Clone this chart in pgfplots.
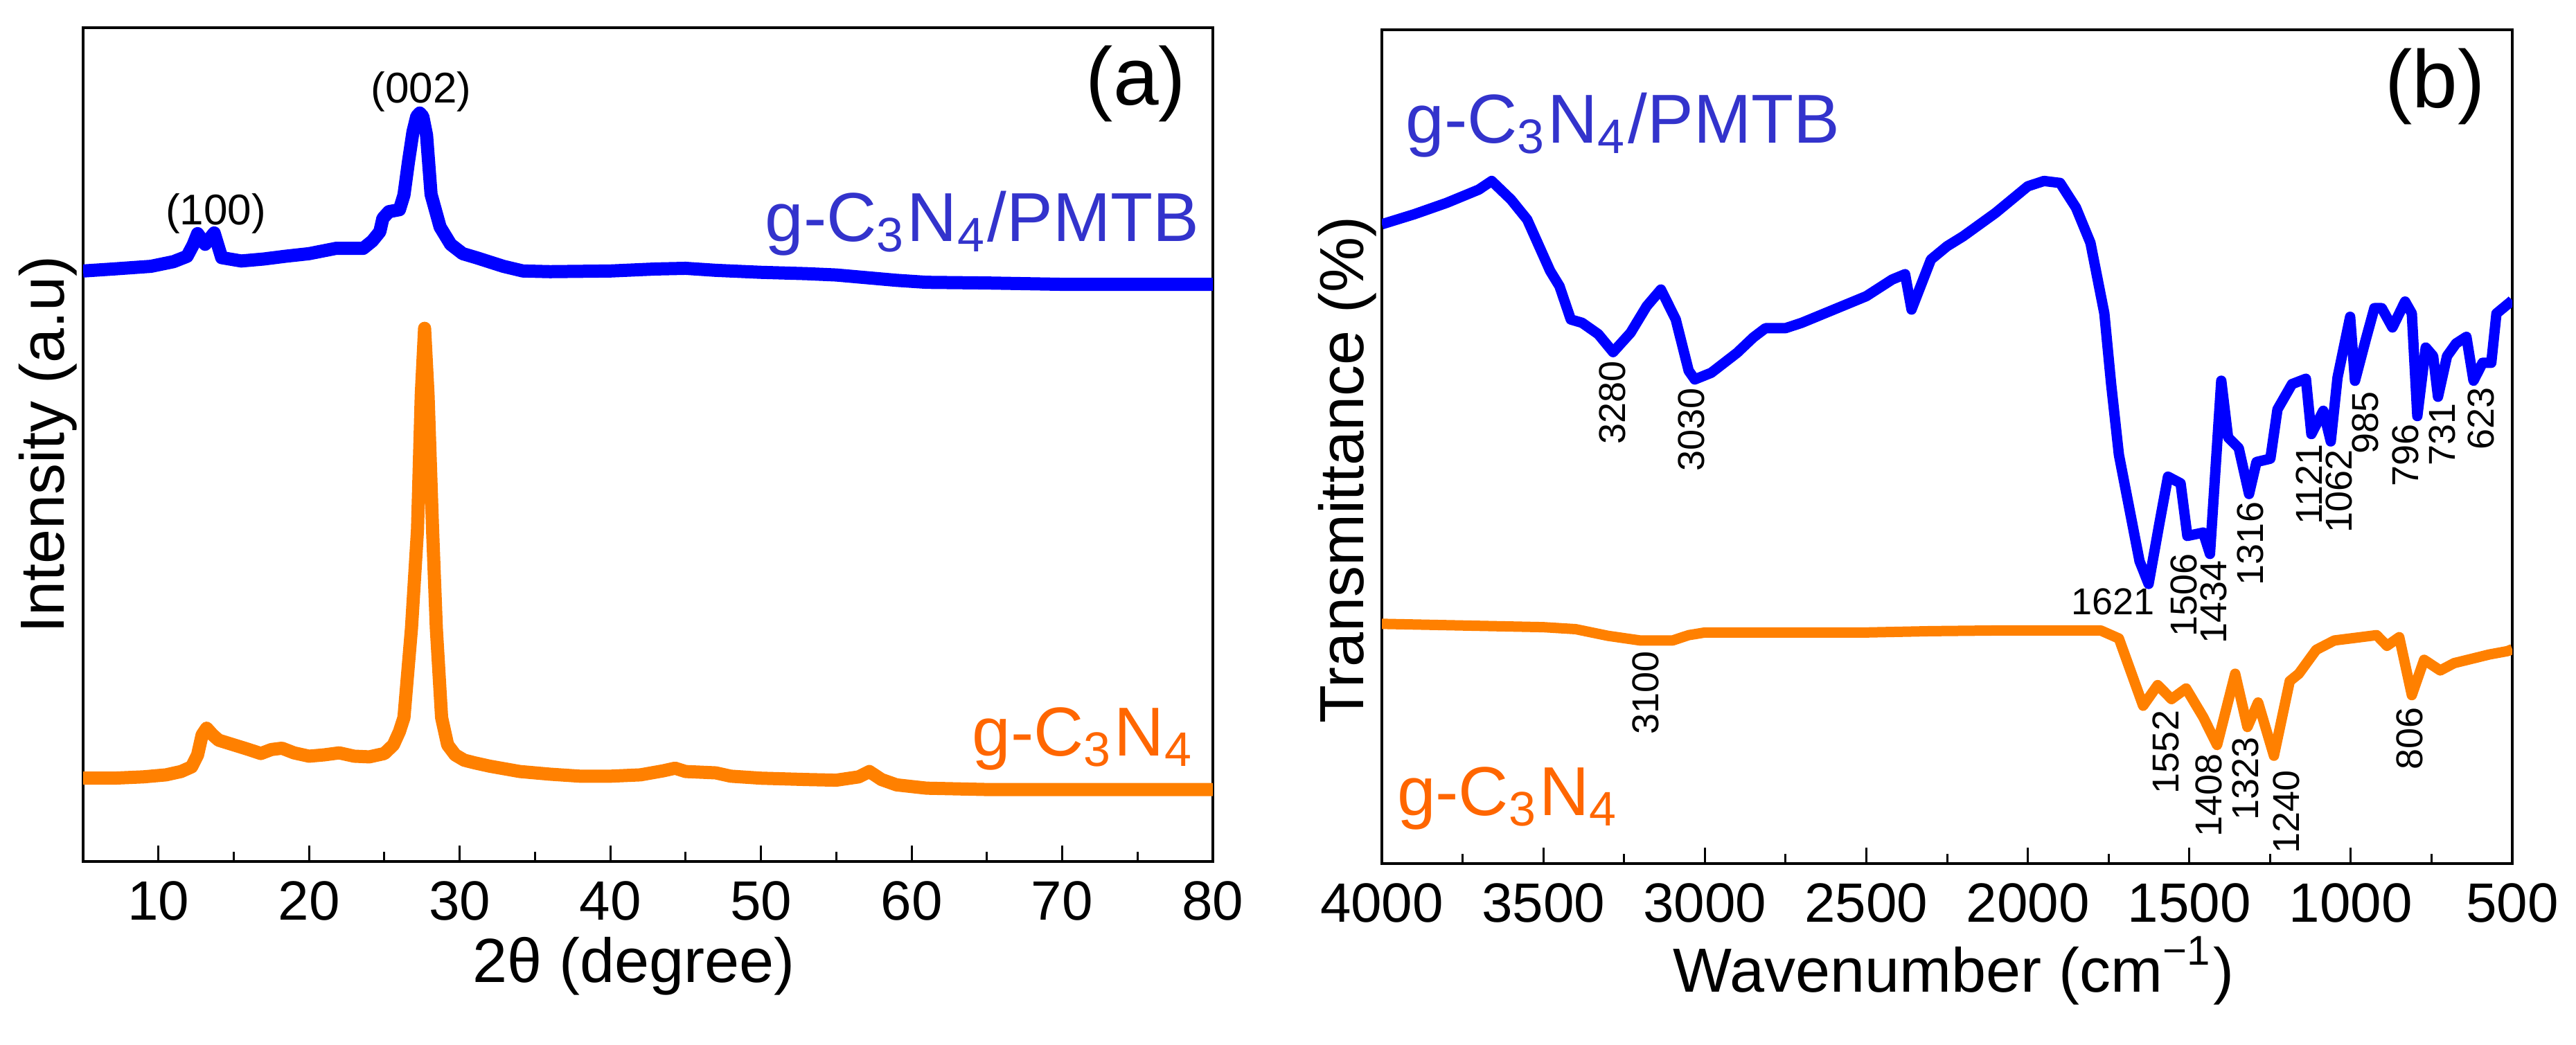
\documentclass[border=0pt]{standalone}
\usepackage{fontspec}
\setmainfont{Liberation Sans}
\usepackage{pgfplots}
\pgfplotsset{compat=1.18}
\definecolor{cblue}{RGB}{0,0,255}
\definecolor{corange}{RGB}{255,128,0}
\definecolor{tblue}{RGB}{51,51,204}
\definecolor{torange}{RGB}{255,102,0}
\newcommand{\annfont}{\fontsize{5.4}{6}\selectfont}
\newcommand{\hklfont}{\fontsize{6.2}{7}\selectfont}
\newcommand{\serfont}{\fontsize{10}{12}\selectfont}
\newcommand{\panfont}{\fontsize{11.8}{13}\selectfont}
\tikzset{rl/.style={rotate=90, anchor=east, inner sep=0pt, font=\annfont}}

\pgfplotstableread{
x y
5 886
7 889
9.5 893
11 900
11.9 908
12.3 925
12.6 942
13.1 926
13.7 943
14.2 906
15.5 901
17 904
18.4 908
20 912
21.8 920
23.6 920
24.2 931
24.7 945
24.9 965
25.3 975
26.0 978
26.3 1000
26.6 1050
26.9 1095
27.15 1118
27.35 1123
27.55 1118
27.8 1090
28.1 1001
28.7 952
29.4 926
30.2 912
31.1 906
32.9 893
34.2 886
36 885
40 886
43 889
45 890
47 887
50 884
53 882
55 880
57 876
59 872
61 869
65 868
70 866
75 866
80 866
}\xrdblue

\pgfplotstableread{
x y
5 125
7 125
9 127
10.5 130
11.5 135
12.2 142
12.6 160
12.9 190
13.2 200
13.6 190
14 182
15 175
16 168
16.8 162
17.5 168
18.2 170
19 163
20 158
21 160
22 163
23 158
24 157
25 162
25.6 175
26.0 195
26.3 216
26.8 350
27.2 498
27.45 700
27.67 800
27.9 700
28.2 498
28.45 350
28.8 216
29.2 175
29.7 160
30.3 152
31 148
32 143
34 135
36 131
38 128
40 128
42 130
43.5 136
44.3 140
45 135
46 134
47 133
48 128
50 125
53 123
55 122
56.5 127
57.2 135
58 123
59 115
61 110
65 108
70 108
75 108
80 108
}\xrdorange

\pgfplotstableread{
x y
4000 960
3900 975
3800 992
3700 1012
3660 1025
3600 997
3550 967
3479 890
3450 867
3415 817
3380 812
3330 795
3284 768
3230 797
3180 837
3136 862
3090 817
3050 740
3031 727
2980 737
2900 767
2850 790
2812 804
2750 804
2700 812
2600 832
2500 852
2420 877
2380 885
2360 832
2340 857
2300 907
2250 927
2200 942
2100 977
2050 997
2000 1017
1950 1025
1900 1022
1851 985
1806 932
1763 826
1742 720
1718 614
1686 534
1654 454
1626 420
1594 507
1566 581
1527 571
1506 492
1457 497
1436 465
1401 725
1380 640
1347 624
1315 555
1292 603
1249 608
1227 682
1182 720
1139 728
1122 645
1085 680
1062 634
1041 730
1002 821
987 725
953 788
927 834
904 834
871 805
832 844
811 826
794 672
768 775
745 762
730 701
702 762
674 781
642 791
620 725
592 752
565 752
549 826
504 844
500 846
}\irblue

\pgfplotstableread{
x y
4000 360
3700 357
3500 355
3400 352
3300 342
3200 335
3100 335
3050 343
3000 347
2500 347
2300 349
2102 350
1774 350
1718 338
1643 237
1598 268
1555 247
1510 263
1457 220
1414 178
1358 285
1320 205
1287 242
1238 162
1189 274
1161 285
1107 321
1051 335
920 343
888 327
850 340
811 253
773 306
723 290
680 301
571 314
515 319
500 322
}\irorange

\pgfplotsset{
  panel/.style={
    scale only axis,
    anchor=south west,
    clip mode=individual,
    axis line style={line width=0.35pt},
    ytick=\empty,
    xtick pos=left,
    tick align=inside,
    major tick length=2.3pt,
    minor tick length=1.4pt,
    every tick/.style={line width=0.3pt, black},
    /pgf/number format/assume math mode=true,
    /pgf/number format/1000 sep={},
    xticklabel style={font=\fontsize{8}{9}\selectfont, anchor=base, yshift=-8.4pt, inner sep=0pt},
    label style={font=\fontsize{9}{10}\selectfont},
  },
}

\begin{document}
\begin{tikzpicture}
\path[use as bounding box] (0,0) rectangle (371.9pt,150.8pt);

\begin{axis}[panel,
  at={(12pt,26.4pt)}, width=163.1pt, height=120.4pt,
  xmin=5, xmax=80, ymin=0, ymax=1251,
  xtick={10,20,...,80}, minor xtick={15,25,...,75},
  xlabel={2θ (degree)},
  ylabel={Intensity (a.u)},
  xlabel style={at={(axis description cs:0.5,0)}, anchor=base, yshift=-17.4pt, xshift=-2pt, inner sep=0pt},
  ylabel style={at={(axis description cs:-0.0166,0.5)}, anchor=base, inner sep=0pt},
]
\addplot[corange, line width=1.9pt, line join=round, mark=none] table[x=x,y=y] {\xrdorange};
\addplot[cblue, line width=1.9pt, line join=round, mark=none] table[x=x,y=y] {\xrdblue};
\node[anchor=base, inner sep=0pt, font=\hklfont] at (axis cs:27.45,1138) {(002)};
\node[anchor=base, inner sep=0pt, font=\hklfont] at (axis cs:13.8,955) {(100)};
\node[anchor=base east, inner sep=0pt, font=\panfont] at (axis cs:78.3,1135) {(a)};
\node[anchor=base east, inner sep=0pt, text=tblue, font=\serfont] at (axis cs:79.2,931) {g-C\textsubscript{3}N\textsubscript{4}/PMTB};
\node[anchor=base east, inner sep=0pt, text=torange, font=\serfont] at (axis cs:78.9,158) {g-C\textsubscript{3}N\textsubscript{4}};
\end{axis}

\begin{axis}[panel,
  at={(199.5pt,26.1pt)}, width=163.2pt, height=120.4pt,
  x dir=reverse,
  xmin=500, xmax=4000, ymin=0, ymax=1252,
  xtick={500,1000,...,4000}, minor xtick={750,1250,...,3750},
  xlabel={Wavenumber (cm\textsuperscript{−1})},
  ylabel={Transmittance (\%)},
  xlabel style={at={(axis description cs:0.506,0)}, anchor=base, yshift=-18.5pt, inner sep=0pt},
  ylabel style={at={(axis description cs:-0.016,0.472)}, anchor=base, inner sep=0pt},
]
\addplot[corange, line width=1.5pt, line join=round, mark=none] table[x=x,y=y] {\irorange};
\addplot[cblue, line width=1.5pt, line join=round, mark=none] table[x=x,y=y] {\irblue};
\node[anchor=base east, inner sep=0pt, font=\panfont] at (axis cs:580,1135) {(b)};
\node[anchor=base west, inner sep=0pt, text=tblue, font=\serfont] at (axis cs:3930,1082) {g-C\textsubscript{3}N\textsubscript{4}/PMTB};
\node[anchor=base west, inner sep=0pt, text=torange, font=\serfont] at (axis cs:3957,72) {g-C\textsubscript{3}N\textsubscript{4}};
\node[anchor=east, inner sep=0pt, font=\annfont] at (axis cs:1603,393) {1621};
\node[rl] at (axis cs:3286,757) {3280};
\node[rl] at (axis cs:3041,716) {3030};
\node[rl] at (axis cs:3183,321) {3100};
\node[rl] at (axis cs:1517,468) {1506};
\node[rl] at (axis cs:1424,457) {1434};
\node[rl] at (axis cs:1310,545) {1316};
\node[rl] at (axis cs:1130,632) {1121};
\node[rl] at (axis cs:1036,624) {1062};
\node[rl] at (axis cs:955,711) {985};
\node[rl] at (axis cs:830,662) {796};
\node[rl] at (axis cs:716,693) {731};
\node[rl] at (axis cs:597,717) {623};
\node[rl] at (axis cs:1572,232) {1552};
\node[rl] at (axis cs:1440,167) {1408};
\node[rl] at (axis cs:1326,192) {1323};
\node[rl] at (axis cs:1199,142) {1240};
\node[rl] at (axis cs:817,237) {806};
\end{axis}
\end{tikzpicture}
\end{document}
